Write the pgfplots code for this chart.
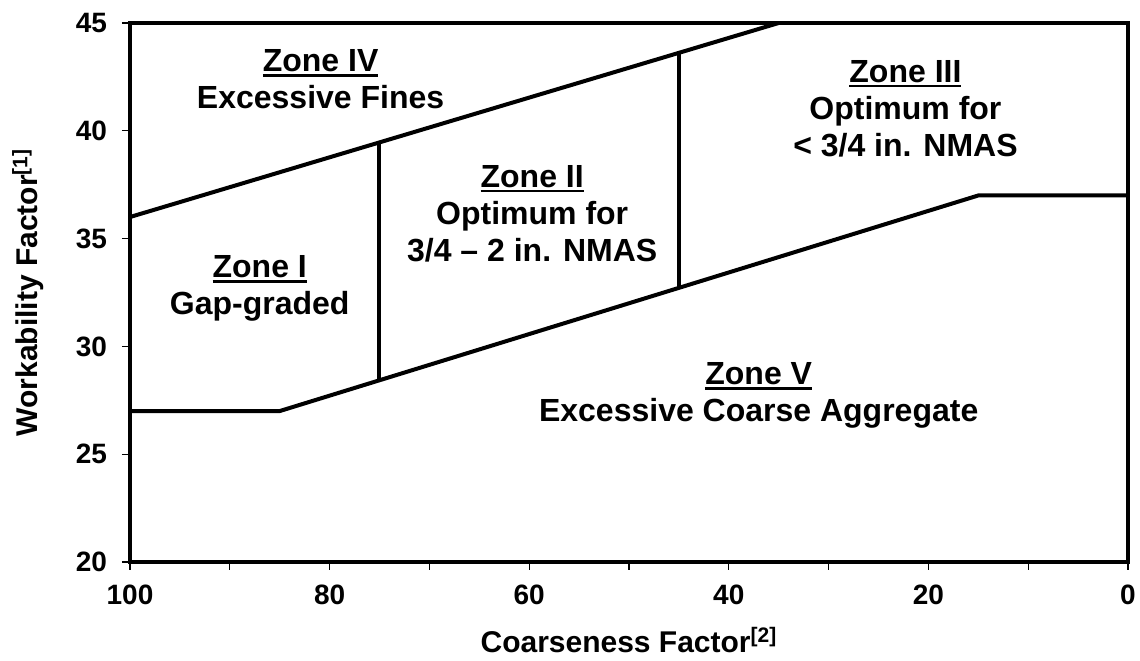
\documentclass[border=0pt]{standalone}
\usepackage{fontspec}
\setmainfont{Liberation Sans}
\newcommand{\ul}[1]{\setbox0\hbox{#1}\rlap{\rule[-2.6pt]{\wd0}{1.4pt}}\box0}
\usepackage{pgfplots}
\pgfplotsset{compat=1.18}
\begin{document}
\begin{tikzpicture}
\begin{axis}[
  scale only axis,
  width=499pt, height=269.5pt,
  x dir=reverse,
  xmin=0, xmax=100, ymin=20, ymax=45,
  xtick={0,20,...,100},
  minor xtick={10,30,...,90},
  ytick={20,25,...,45},
  tick align=outside,
  xtick pos=bottom, ytick pos=left,
  major tick length=4pt, minor tick length=4pt,
  tick style={black, line width=0.6pt},
  axis line style={black, line width=2pt},
  /pgf/number format/assume math mode=true,
  ticklabel style={font=\bfseries\fontsize{14}{14}\selectfont},
  xticklabel style={yshift=-4pt},
  yticklabel style={xshift=-4pt},
  label style={font=\bfseries\fontsize{15}{15}\selectfont},
  xlabel={Coarseness Factor\textsuperscript{[2]}},
  ylabel={Workability Factor\textsuperscript{[1]}},
  xlabel style={at={(axis description cs:0.5,-0.1447)}, anchor=center},
  ylabel style={at={(axis description cs:-0.1022,0.5)}, anchor=center},
  clip=true,
]
\addplot[black, line width=2pt] coordinates {(100,36) (35,45)};
\addplot[black, line width=2pt] coordinates {(100,27) (85,27) (15,37) (0,37)};
\addplot[black, line width=2pt] coordinates {(75,28.43) (75,39.46)};
\addplot[black, line width=2pt] coordinates {(45,32.71) (45,43.62)};

\tikzset{zone/.style={align=center, font=\bfseries\fontsize{16}{18.5}\selectfont, inner sep=0pt}}
\node[zone] at (axis cs:80.9,42.4) {\ul{Zone IV}\\Excessive Fines};
\node[zone] at (axis cs:87,32.69) {\ul{Zone I}\\Gap-graded};
\node[zone] at (axis cs:59.7,36.16) {\ul{Zone II}\\Optimum for\\3/4 – 2 in. NMAS};
\node[zone] at (axis cs:22.3,41.03) {\ul{Zone III}\\Optimum for\\< 3/4 in. NMAS};
\node[zone] at (axis cs:37,27.72) {\ul{Zone V}\\Excessive Coarse Aggregate};
\end{axis}
\pgfresetboundingbox
\path ([xshift=-65pt,yshift=-49.5pt]current axis.south west) rectangle ([xshift=6pt,yshift=11.5pt]current axis.north east);
\end{tikzpicture}
\end{document}
